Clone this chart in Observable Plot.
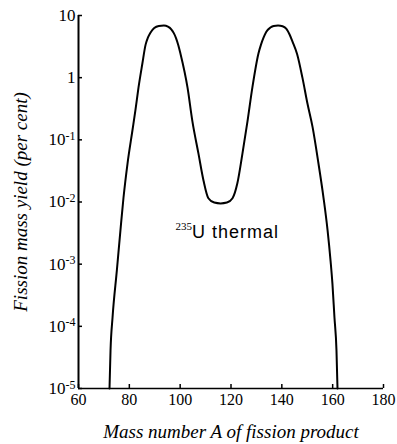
<!DOCTYPE html>
<html><head><meta charset="utf-8">
<script src="https://cdn.jsdelivr.net/npm/d3@7"></script>
<script src="https://cdn.jsdelivr.net/npm/@observablehq/plot@0.6"></script>
<style>
html,body{margin:0;padding:0;background:#fff;}
</style></head><body><div id="chart"></div>
<script>
// Mass number A of fission product
const massNumber = [72.2, 72.6, 73.4, 75.1, 76.5, 77.7, 79.3, 81.2, 82.4, 83.6, 85.1, 86.4, 87.3, 88.3, 89.8, 91.6, 93.6, 95.2, 96.5, 97.5, 98.4, 99.3, 100.1, 102.9, 104.8, 107.2, 109.2, 111.1, 113.4, 115.9, 118.4, 120.6, 122.5, 124.5, 126.5, 128.4, 130.8, 131.8, 132.8, 133.9, 135.5, 136.8, 138.5, 140.3, 141.8, 143.0, 144.2, 146.0, 148.1, 150.1, 152.1, 154.4, 156.4, 158.0, 159.2, 159.9, 160.7, 161.5, 161.9];
// Fission mass yield (per cent)
const yieldPercent = [1e-5, 4.1e-5, 1.4e-4, 8e-4, 3.5e-3, 0.0117, 0.042, 0.14, 0.30, 0.69, 1.66, 3.4, 4.4, 5.3, 6.3, 6.8, 6.9, 6.6, 6.0, 5.2, 4.3, 3.3, 2.45, 0.69, 0.20, 0.060, 0.022, 0.0115, 0.0098, 0.0095, 0.0098, 0.0115, 0.020, 0.060, 0.20, 0.69, 2.45, 3.4, 4.4, 5.5, 6.4, 6.8, 6.9, 6.7, 6.1, 5.0, 3.8, 2.4, 1.0, 0.38, 0.16, 0.042, 0.0117, 3.5e-3, 1.1e-3, 4.9e-4, 1.4e-4, 4.1e-5, 1e-5];

const xDomain = [60, 180];
const yDomain = [1e-5, 10];
const xTicks = [60, 80, 100, 120, 140, 160, 180];
const yTicks = [1e-5, 1e-4, 1e-3, 1e-2, 1e-1, 1, 10];
const yTickLabels = ["10^-5", "10^-4", "10^-3", "10^-2", "10^-1", "1", "10"];
const xLabel = "Mass number A of fission product";
const yLabel = "Fission mass yield (per cent)";
const curveLabelSup = "235";
const curveLabelText = "U thermal";
const curveLabelPos = [{A: 98.2, y: 0.0037}];

const data = massNumber.map((A, i) => ({A, y: yieldPercent[i]}));

const plot = Plot.plot({
  width: 397, height: 444,
  marginLeft: 78, marginRight: 14, marginTop: 15, marginBottom: 56,
  style: {fontFamily: "'Liberation Serif', serif", fontSize: "16px", background: "#fff", color: "#000", overflow: "visible"},
  x: {domain: xDomain},
  y: {type: "log", domain: yDomain},
  marks: [
    Plot.axisX({ticks: xTicks, tickSize: -4, tickPadding: 9, tickFormat: d => String(d), label: null, fontSize: 16, strokeWidth: 1.5}),
    Plot.axisY({ticks: yTicks, tickSize: -4, tickPadding: 7, tickFormat: d => yTickLabels[yTicks.indexOf(d)], label: null, fontSize: 17, strokeWidth: 1.5}),
    Plot.ruleX(xDomain.slice(0, 1), {strokeWidth: 2}),
    Plot.ruleY(yDomain.slice(0, 1), {strokeWidth: 1.5}),
    Plot.line(data, {x: "A", y: "y", curve: "monotone-x", strokeWidth: 2, stroke: "#000"}),
    Plot.text(curveLabelPos, {x: "A", y: "y", text: () => curveLabelText, textAnchor: "start", lineAnchor: "middle", fontFamily: "'Liberation Sans', sans-serif", fontSize: 18}),
    Plot.text([xLabel], {frameAnchor: "bottom", text: d => d, dy: 43, fontStyle: "italic", fontSize: 19, lineAnchor: "middle", textAnchor: "middle"}),
    Plot.text([yLabel], {frameAnchor: "left", text: d => d, dx: -58, rotate: -90, fontStyle: "italic", fontSize: 19, lineAnchor: "middle", textAnchor: "middle", letterSpacing: "0.6px"})
  ]
});

// superscripts for tick labels and curve label
const svgNS = "http://www.w3.org/2000/svg";
plot.querySelectorAll("text").forEach(t => {
  const s = t.textContent;
  const m = s.match(/^10\^(-\d)$/);
  if (m) {
    t.textContent = "";
    const a = document.createElementNS(svgNS, "tspan"); a.textContent = "10";
    const b = document.createElementNS(svgNS, "tspan"); b.textContent = m[1];
    b.setAttribute("dy", "-0.45em"); b.setAttribute("font-size", "12");
    t.appendChild(a); t.appendChild(b);
  } else if (s === curveLabelText) {
    t.textContent = "";
    const a = document.createElementNS(svgNS, "tspan"); a.textContent = curveLabelSup;
    a.setAttribute("dy", "-0.45em"); a.setAttribute("font-size", "11");
    a.setAttribute("font-family", "'Liberation Serif', serif");
    const b = document.createElementNS(svgNS, "tspan"); b.textContent = curveLabelText;
    b.setAttribute("dy", "0.45em"); b.setAttribute("letter-spacing", "1");
    t.appendChild(a); t.appendChild(b);
  }
});
document.getElementById("chart").appendChild(plot);
</script>
</body></html>
